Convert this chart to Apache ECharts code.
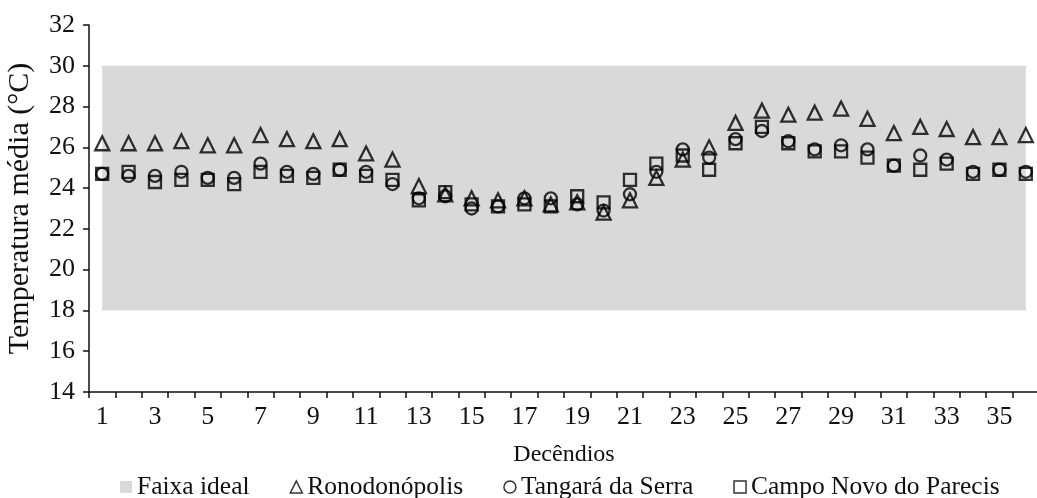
<!DOCTYPE html>
<html>
  <head>
    <meta charset="utf-8" />
    <title>Temperatura média por decêndio</title>
    <script src="https://cdn.jsdelivr.net/npm/echarts@6/dist/echarts.min.js"></script>
    <style type="text/css">
      body { margin: 0; background: #fff; }
    </style>
  </head>
  <body>
    <div id="main" style="width: 1037px; height: 498px"></div>
    <script type="text/javascript">
      // decêndios 1..36
      var decendios = [];
      for (var i = 1; i <= 36; i++) decendios.push(String(i));

      var rondonopolis = [26.2, 26.2, 26.2, 26.3, 26.1, 26.1, 26.6, 26.4, 26.3, 26.4, 25.7, 25.4,
        24.1, 23.7, 23.5, 23.4, 23.5, 23.2, 23.3, 22.8, 23.4, 24.5, 25.4, 26.0,
        27.2, 27.8, 27.6, 27.7, 27.9, 27.4, 26.7, 27.0, 26.9, 26.5, 26.5, 26.6];
      var tangara = [24.7, 24.6, 24.6, 24.8, 24.5, 24.5, 25.2, 24.8, 24.7, 24.9, 24.8, 24.2,
        23.5, 23.6, 23.0, 23.1, 23.5, 23.5, 23.2, 22.9, 23.7, 24.8, 25.9, 25.5,
        26.4, 26.8, 26.3, 25.9, 26.1, 25.9, 25.1, 25.6, 25.4, 24.8, 24.9, 24.8];
      var campoNovo = [24.7, 24.8, 24.3, 24.4, 24.4, 24.2, 24.8, 24.6, 24.5, 24.9, 24.6, 24.4,
        23.4, 23.8, 23.2, 23.1, 23.2, 23.1, 23.6, 23.3, 24.4, 25.2, 25.6, 24.9,
        26.2, 27.0, 26.2, 25.8, 25.8, 25.5, 25.1, 24.9, 25.2, 24.7, 24.9, 24.7];

      // faixa ideal de temperatura
      var faixaMin = 18;
      var faixaMax = 30;

      var fonte = "Liberation Serif";
      var myChart = echarts.init(document.getElementById("main"));

      function serie(nome, simbolo, tam, dados) {
        return {
          name: nome,
          type: "scatter",
          symbol: simbolo,
          symbolSize: tam,
          data: dados,
          itemStyle: { color: "rgba(0,0,0,0)", borderColor: "#000", borderWidth: 2.3 },
          z: 3
        };
      }

      var option = {
        backgroundColor: "#fff",
        animation: false,
        textStyle: { fontFamily: fonte },
        grid: { left: 89, top: 25, width: 950, bottom: 106, containLabel: false, outerBoundsMode: "none" },
        legend: {
          left: 115,
          top: 469,
          itemGap: 40,
          itemWidth: 12,
          itemHeight: 12,
          textStyle: { fontFamily: fonte, fontSize: 25.5, color: "#111" },
          data: [
            { name: "Faixa ideal", icon: "rect", itemStyle: { color: "#d9d9d9", borderWidth: 0 } },
            { name: "Ronodonópolis", icon: "triangle", itemStyle: { color: "#fff", borderColor: "#000", borderWidth: 1.5 } },
            { name: "Tangará da Serra", icon: "circle", itemStyle: { color: "#fff", borderColor: "#000", borderWidth: 1.5 } },
            { name: "Campo Novo do Parecis", icon: "rect", itemStyle: { color: "#fff", borderColor: "#000", borderWidth: 1.5 } }
          ]
        },
        xAxis: {
          type: "category",
          data: decendios,
          name: "Decêndios",
          nameLocation: "middle",
          nameGap: 51,
          nameTextStyle: { fontFamily: fonte, fontSize: 24, color: "#111" },
          axisLine: { lineStyle: { color: "#111", width: 1.5 } },
          axisTick: { show: true, interval: 0, length: 6, lineStyle: { color: "#111", width: 1.5 } },
          axisLabel: { interval: 1, fontFamily: fonte, fontSize: 26, color: "#111", margin: 12 },
          splitLine: { show: false }
        },
        yAxis: {
          type: "value",
          min: 14,
          max: 32,
          interval: 2,
          name: "Temperatura média (°C)",
          nameLocation: "middle",
          nameGap: 54,
          nameTextStyle: { fontFamily: fonte, fontSize: 30, color: "#111" },
          axisLine: { show: true, lineStyle: { color: "#111", width: 1.5 } },
          axisTick: { show: true, length: 6, lineStyle: { color: "#111", width: 1.5 } },
          axisLabel: { fontFamily: fonte, fontSize: 26, color: "#111", margin: 14 },
          splitLine: { show: false }
        },
        series: [
          {
            name: "Faixa ideal",
            type: "line",
            data: [],
            itemStyle: { color: "#d9d9d9" },
            markArea: {
              silent: true,
              itemStyle: { color: "#d9d9d9" },
              data: [[{ xAxis: decendios[0], yAxis: faixaMax }, { xAxis: decendios[decendios.length - 1], yAxis: faixaMin }]]
            },
            z: 1
          },
          serie("Ronodonópolis", "triangle", 14, rondonopolis),
          serie("Tangará da Serra", "circle", 12, tangara),
          serie("Campo Novo do Parecis", "rect", 12, campoNovo)
        ]
      };

      myChart.setOption(option);
    </script>
  </body>
</html>
